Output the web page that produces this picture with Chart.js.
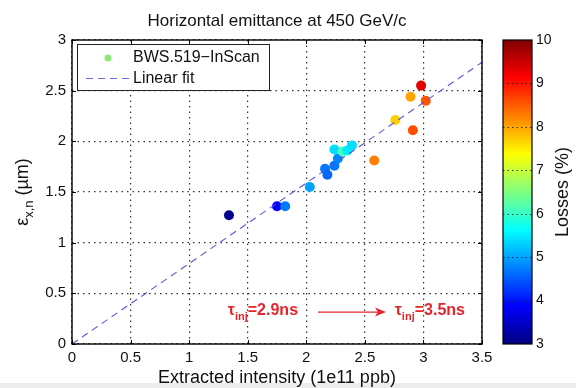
<!DOCTYPE html>
<html><head><meta charset="utf-8">
<script src="https://cdn.jsdelivr.net/npm/chart.js@4.4.0/dist/chart.umd.min.js"></script>
<style>html,body{margin:0;padding:0;background:#fff;}#wrap{width:576px;height:388px;}</style>
</head><body><div id="wrap"><canvas id="c" width="576" height="388"></canvas></div>
<script>
// ---- data ----
const intensity = [1.34, 1.75, 1.82, 2.03, 2.16, 2.18, 2.24, 2.27, 2.24, 2.31, 2.35, 2.39, 2.58, 2.76, 2.89, 2.98, 3.02, 2.91];
const emittance = [1.27, 1.36, 1.36, 1.55, 1.73, 1.67, 1.76, 1.83, 1.92, 1.90, 1.91, 1.96, 1.81, 2.21, 2.44, 2.55, 2.40, 2.11];
const losses    = [3.1, 3.9, 4.7, 5.0, 4.7, 4.6, 4.7, 4.8, 5.4, 6.1, 5.5, 5.4, 8.25, 7.7, 8.0, 9.3, 8.55, 8.6];
const fitX = [0, 3.5];
const fitY = [0, 2.78];
const xTicks = [0, 0.5, 1, 1.5, 2, 2.5, 3, 3.5];
const yTicks = [0, 0.5, 1, 1.5, 2, 2.5, 3];
const lossTicks = [3, 4, 5, 6, 7, 8, 9, 10];
const lossMin = 3, lossMax = 10;
const titleText = 'Horizontal emittance at 450 GeV/c';
const xTitle = 'Extracted intensity (1e11 ppb)';
const cbTitle = 'Losses (%)';
const seriesName = 'BWS.519\u2212InScan';
const fitName = 'Linear fit';

const FONT = '"Liberation Sans", Arial, Helvetica, sans-serif';

function jet(t){
  const cl = v => Math.max(0, Math.min(1, v));
  const r = cl(1.5 - Math.abs(4*t - 3)), g = cl(1.5 - Math.abs(4*t - 2)), b = cl(1.5 - Math.abs(4*t - 1));
  return 'rgb(' + Math.round(r*255) + ',' + Math.round(g*255) + ',' + Math.round(b*255) + ')';
}
const pointColors = losses.map(l => jet((l - lossMin) / (lossMax - lossMin)));

const deco = {
  id: 'deco',
  beforeDraw(chart){
    const c = chart.ctx;
    c.save();
    c.fillStyle = '#fff'; c.fillRect(0, 0, chart.width, chart.height);
    c.fillStyle = '#ececec'; c.fillRect(0, 383, chart.width, 5);
    c.restore();
  },
  afterDraw(chart){
    const c = chart.ctx, a = chart.chartArea, xs = chart.scales.x, ys = chart.scales.y;
    c.save();
    // inner ticks
    c.strokeStyle = '#000'; c.lineWidth = 1;
    xTicks.forEach(v => { const px = Math.round(xs.getPixelForValue(v)) + 0.5;
      c.beginPath(); c.moveTo(px, a.bottom); c.lineTo(px, a.bottom - 4); c.moveTo(px, a.top); c.lineTo(px, a.top + 4); c.stroke(); });
    yTicks.forEach(v => { const py = Math.round(ys.getPixelForValue(v)) + 0.5;
      c.beginPath(); c.moveTo(a.left, py); c.lineTo(a.left + 4, py); c.moveTo(a.right, py); c.lineTo(a.right - 4, py); c.stroke(); });
    // frame
    c.lineWidth = 1.4; c.strokeStyle = '#000';
    c.strokeRect(a.left, a.top, a.right - a.left, a.bottom - a.top);

    // title
    c.fillStyle = '#111'; c.textAlign = 'center'; c.textBaseline = 'alphabetic';
    c.font = '17px ' + FONT;
    c.fillText(titleText, (a.left + a.right) / 2, 26);
    // x title
    c.font = '18px ' + FONT;
    c.fillText(xTitle, (a.left + a.right) / 2, 383);

    // y title (rotated) epsilon_{x,n} (µm)
    c.save();
    c.translate(28, (a.top + a.bottom) / 2);
    c.rotate(-Math.PI / 2);
    c.textAlign = 'left';
    const big = '18px ' + FONT, small = '13px ' + FONT;
    c.font = big; const w1 = c.measureText('\u03B5').width;
    c.font = small; const w2 = c.measureText('x,n').width;
    c.font = big; const w3 = c.measureText(' (\u00B5m)').width;
    let sx = -(w1 + w2 + w3) / 2;
    c.font = big; c.fillText('\u03B5', sx, 0); sx += w1;
    c.font = small; c.fillText('x,n', sx, 5); sx += w2;
    c.font = big; c.fillText(' (\u00B5m)', sx, 0);
    c.restore();

    // legend
    const lx = 77, ly = 44, lw = 192, lh = 46;
    c.fillStyle = '#fff'; c.fillRect(lx, ly, lw, lh);
    c.lineWidth = 1; c.strokeStyle = '#222'; c.strokeRect(lx + 0.5, ly + 0.5, lw, lh);
    c.fillStyle = '#8de67a'; c.beginPath(); c.arc(108, 58, 3.5, 0, Math.PI * 2); c.fill();
    c.strokeStyle = '#6a6ae0'; c.lineWidth = 1.2; c.setLineDash([7, 5]);
    c.beginPath(); c.moveTo(86, 78.5); c.lineTo(129, 78.5); c.stroke(); c.setLineDash([]);
    c.fillStyle = '#111'; c.font = '16px ' + FONT; c.textAlign = 'left'; c.textBaseline = 'middle';
    c.fillText(seriesName, 133, 58);
    c.fillText(fitName, 133, 79);

    // colorbar
    const cx0 = 503, cx1 = 532, ct = a.top, cb = a.bottom;
    const g = c.createLinearGradient(0, cb, 0, ct);
    for (let i = 0; i <= 64; i++) g.addColorStop(i / 64, jet(i / 64));
    c.fillStyle = g; c.fillRect(cx0, ct, cx1 - cx0, cb - ct);
    const lp = v => cb - (v - lossMin) / (lossMax - lossMin) * (cb - ct);
    c.strokeStyle = 'rgba(20,20,40,0.8)'; c.lineWidth = 1; c.setLineDash([1.5, 3]);
    lossTicks.forEach(v => { if (v === lossMin || v === lossMax) return; const py = Math.round(lp(v)) + 0.5;
      c.beginPath(); c.moveTo(cx0, py); c.lineTo(cx1, py); c.stroke(); });
    c.setLineDash([]);
    c.strokeStyle = '#000'; c.lineWidth = 1.2; c.strokeRect(cx0, ct, cx1 - cx0, cb - ct);
    c.fillStyle = '#111'; c.font = '14px ' + FONT; c.textAlign = 'left'; c.textBaseline = 'middle';
    lossTicks.forEach(v => c.fillText(String(v), 536, lp(v)));
    c.save();
    c.translate(568, (ct + cb) / 2); c.rotate(-Math.PI / 2);
    c.textAlign = 'center'; c.textBaseline = 'alphabetic'; c.font = '18px ' + FONT;
    c.fillText(cbTitle, 0, 0);
    c.restore();

    // red annotations
    const red = '#e3262b';
    function tau(xv, yv, txt){
      let px = xs.getPixelForValue(xv), py = ys.getPixelForValue(yv);
      c.fillStyle = red; c.textAlign = 'left'; c.textBaseline = 'alphabetic';
      c.font = 'bold 16px ' + FONT; c.fillText('\u03C4', px, py); px += c.measureText('\u03C4').width;
      c.font = 'bold 11px ' + FONT; c.fillText('inj', px, py + 5); px += c.measureText('inj').width;
      c.font = 'bold 16px ' + FONT; c.fillText(txt, px, py);
    }
    tau(1.33, 0.285, '=2.9ns');
    tau(2.755, 0.285, '=3.5ns');
    const ax0 = xs.getPixelForValue(2.1), ax1 = xs.getPixelForValue(2.68), ay = ys.getPixelForValue(0.315);
    c.strokeStyle = red; c.fillStyle = red; c.lineWidth = 1.3;
    c.beginPath(); c.moveTo(ax0, ay); c.lineTo(ax1 - 6, ay); c.stroke();
    c.beginPath(); c.moveTo(ax1, ay); c.lineTo(ax1 - 11, ay - 4.5); c.lineTo(ax1 - 8, ay); c.lineTo(ax1 - 11, ay + 4.5); c.closePath(); c.fill();
    c.restore();
  }
};

const gridOpts = { color: '#333', lineWidth: 1.2, drawTicks: false, tickLength: 0 };
const borderOpts = { display: false, dash: [1.5, 4] };
const tickFont = { family: FONT, size: 15 };
const fmt = v => String(v);

new Chart(document.getElementById('c'), {
  type: 'scatter',
  data: { datasets: [
    { label: seriesName, data: intensity.map((x, i) => ({ x: x, y: emittance[i] })),
      pointBackgroundColor: pointColors, pointBorderWidth: 0, pointRadius: 5, showLine: false, order: 2 },
    { type: 'line', label: fitName, data: fitX.map((x, i) => ({ x: x, y: fitY[i] })),
      borderColor: '#5858d8', borderWidth: 1.1, borderDash: [7, 5], pointRadius: 0, fill: false, order: 1 }
  ]},
  options: {
    responsive: false, animation: false, devicePixelRatio: 1,
    layout: { padding: { top: 40, right: 94, left: 0, bottom: 0 } },
    plugins: { legend: { display: false }, tooltip: { enabled: false }, title: { display: false } },
    scales: {
      x: { type: 'linear', min: 0, max: 3.5,
        afterBuildTicks: s => { s.ticks = xTicks.map(v => ({ value: v })); },
        afterFit: s => { s.height = 44; },
        grid: gridOpts, border: borderOpts,
        ticks: { color: '#111', font: tickFont, padding: 5, maxRotation: 0, autoSkip: false, callback: fmt } },
      y: { type: 'linear', min: 0, max: 3,
        afterBuildTicks: s => { s.ticks = yTicks.map(v => ({ value: v })); },
        afterFit: s => { s.width = 72; },
        grid: gridOpts, border: borderOpts,
        ticks: { color: '#111', font: tickFont, padding: 6, autoSkip: false, callback: fmt } }
    }
  },
  plugins: [deco]
});
</script></body></html>
